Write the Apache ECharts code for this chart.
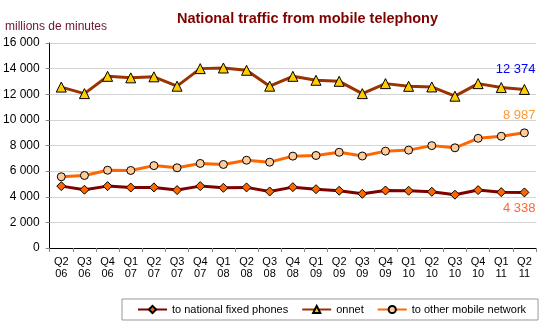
<!DOCTYPE html>
<html>
<head>
<meta charset="utf-8">
<script src="https://cdn.jsdelivr.net/npm/echarts@6/dist/echarts.min.js"></script>
<style>
  html, body { margin: 0; padding: 0; background: #fff; }
  #chart { width: 553px; height: 332px; }
</style>
</head>
<body>
<div id="chart"></div>
<script>
// Quarterly national traffic from mobile telephony, millions of minutes
const quarters = ['Q2\n06','Q3\n06','Q4\n06','Q1\n07','Q2\n07','Q3\n07','Q4\n07','Q1\n08','Q2\n08','Q3\n08','Q4\n08',
                  'Q1\n09','Q2\n09','Q3\n09','Q4\n09','Q1\n10','Q2\n10','Q3\n10','Q4\n10','Q1\n11','Q2\n11'];
const fixedPhones = [4830, 4550, 4830, 4720, 4730, 4520, 4830, 4700, 4730, 4410, 4750,
                     4590, 4470, 4230, 4490, 4470, 4390, 4160, 4520, 4360, 4338];
const onnet = [12560, 12050, 13400, 13280, 13360, 12630, 14000, 14050, 13870, 12630, 13400,
               13090, 13010, 12050, 12830, 12620, 12570, 11850, 12830, 12520, 12374];
const otherMobile = [5560, 5660, 6070, 6050, 6430, 6260, 6600, 6520, 6850, 6700, 7170,
                     7220, 7470, 7180, 7560, 7640, 7990, 7820, 8560, 8720, 8987];
const seriesNames = ['to national fixed phones', 'onnet', 'to other mobile network'];
const yTicks = { min: 0, max: 16000, interval: 2000 };

const FONT = 'Arial, "Liberation Sans", sans-serif';
const fmt = v => String(v).replace(/\B(?=(\d{3})+(?!\d))/g, ' ');

// Only the last quarter carries a value label
function endLabel(values, color, position, offset) {
  return values.map((v, i) => i === values.length - 1 ? {
    value: v,
    label: {
      show: true, position: position, align: 'right', offset: offset,
      color: color, fontFamily: FONT, fontSize: 13,
      formatter: p => fmt(p.value)
    }
  } : v);
}

const chart = echarts.init(document.getElementById('chart'), null, { renderer: 'canvas' });
chart.setOption({
  animation: false,
  backgroundColor: '#ffffff',
  title: {
    text: 'National traffic from mobile telephony',
    left: 172, top: 6,
    textStyle: { color: '#800000', fontFamily: FONT, fontSize: 14.5, fontWeight: 'bold' }
  },
  graphic: [{
    type: 'text', left: 5, top: 21,
    style: { text: 'millions de minutes', fill: '#6b1236', font: '12px ' + FONT }
  }],
  grid: { left: 48, right: 17, top: 43, bottom: 84, containLabel: false },
  legend: {
    left: 122, top: 299,
    padding: [5, 12, 5, 15],
    borderColor: '#999999', borderWidth: 1,
    itemWidth: 29, itemHeight: 9, itemGap: 13,
    textStyle: { fontFamily: FONT, fontSize: 11, color: '#000' },
    data: seriesNames
  },
  xAxis: {
    type: 'category', data: quarters, boundaryGap: true,
    axisLine: { lineStyle: { color: '#000', width: 1 } },
    axisTick: { show: true, length: 4, lineStyle: { color: '#888' } },
    axisLabel: { fontFamily: FONT, fontSize: 11, color: '#000', lineHeight: 12, margin: 8, interval: 0 }
  },
  yAxis: {
    type: 'value', min: yTicks.min, max: yTicks.max, interval: yTicks.interval,
    axisLine: { show: true, lineStyle: { color: '#000', width: 1 } },
    axisTick: { show: true, length: 4, lineStyle: { color: '#888' } },
    axisLabel: { fontFamily: FONT, fontSize: 12, color: '#000', margin: 10, formatter: v => fmt(v) },
    splitLine: { lineStyle: { color: '#d4d4d4', width: 1 } }
  },
  series: [
    {
      name: seriesNames[0], type: 'line',
      data: endLabel(fixedPhones, '#ff6633', 'bottom', [11, 0]),
      lineStyle: { color: '#800000', width: 3 },
      symbol: 'diamond', symbolSize: 9,
      itemStyle: { color: '#ff6600', borderColor: '#000', borderWidth: 1 },
      z: 3
    },
    {
      name: seriesNames[1], type: 'line',
      data: endLabel(onnet, '#0000ff', 'top', [11, -3]),
      lineStyle: { color: '#993300', width: 3 },
      symbol: 'triangle', symbolSize: 10,
      itemStyle: { color: '#ffcc00', borderColor: '#000', borderWidth: 1 },
      z: 3
    },
    {
      name: seriesNames[2], type: 'line',
      data: endLabel(otherMobile, '#ff9933', 'top', [11, -1]),
      lineStyle: { color: '#ff6600', width: 3 },
      symbol: 'circle', symbolSize: 8,
      itemStyle: { color: '#ffcc99', borderColor: '#000', borderWidth: 1 },
      z: 3
    }
  ]
});
</script>
</body>
</html>
